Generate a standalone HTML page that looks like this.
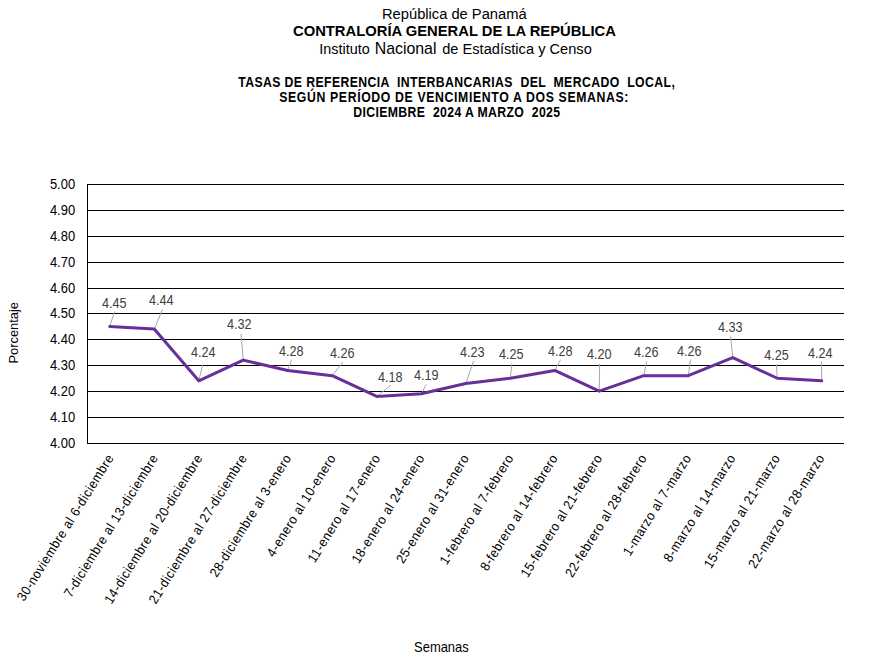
<!DOCTYPE html>
<html><head><meta charset="utf-8"><title>Tasas de referencia interbancarias</title><style>
html,body{margin:0;padding:0;background:#fff;}
body{width:879px;height:660px;overflow:hidden;position:relative;}
svg{position:absolute;left:0;top:0;}
text{font-family:"Liberation Sans",Arial,sans-serif;}
</style></head><body>
<svg width="879" height="660" viewBox="0 0 879 660">
<g fill="#000">
<text x="382.0" y="18.8" font-size="15.2" textLength="144.6" lengthAdjust="spacingAndGlyphs">República de Panamá</text>
<text x="293.0" y="35.6" font-size="15.3" font-weight="bold" textLength="322.9" lengthAdjust="spacingAndGlyphs">CONTRALORÍA GENERAL DE LA REPÚBLICA</text>
<text x="319.3" y="54" font-size="15.3" textLength="50.4" lengthAdjust="spacingAndGlyphs">Instituto</text>
<text x="374.7" y="54" font-size="16.6" textLength="61.8" lengthAdjust="spacingAndGlyphs">Nacional</text>
<text x="442.2" y="54" font-size="15.3" textLength="149.6" lengthAdjust="spacingAndGlyphs">de Estadística y Censo</text>
</g>
<g fill="#000" font-size="14.6" font-weight="bold">
<text transform="translate(238.2,87) scale(0.84,1)" textLength="519.8" lengthAdjust="spacing" xml:space="preserve">TASAS DE REFERENCIA  INTERBANCARIAS  DEL  MERCADO  LOCAL,</text>
<text transform="translate(279.2,101.9) scale(0.84,1)" textLength="415.8" lengthAdjust="spacing">SEGÚN PERÍODO DE VENCIMIENTO A DOS SEMANAS:</text>
<text transform="translate(353.3,116.7) scale(0.84,1)" textLength="246.2" lengthAdjust="spacing" xml:space="preserve">DICIEMBRE  2024 A MARZO  2025</text>
</g>
<g stroke="#000" stroke-width="1" shape-rendering="crispEdges">
<line x1="87" y1="184.5" x2="844" y2="184.5"/>
<line x1="87" y1="210.5" x2="844" y2="210.5"/>
<line x1="87" y1="236.5" x2="844" y2="236.5"/>
<line x1="87" y1="262.5" x2="844" y2="262.5"/>
<line x1="87" y1="288.5" x2="844" y2="288.5"/>
<line x1="87" y1="313.5" x2="844" y2="313.5"/>
<line x1="87" y1="339.5" x2="844" y2="339.5"/>
<line x1="87" y1="365.5" x2="844" y2="365.5"/>
<line x1="87" y1="391.5" x2="844" y2="391.5"/>
<line x1="87" y1="417.5" x2="844" y2="417.5"/>
<line x1="87" y1="443.5" x2="844" y2="443.5"/>
<line x1="87.5" y1="184" x2="87.5" y2="444"/>
</g>
<g fill="#000" font-size="14.8" text-anchor="end">
<text x="75.1" y="189.00" textLength="25.2" lengthAdjust="spacingAndGlyphs">5.00</text>
<text x="75.1" y="215.00" textLength="25.2" lengthAdjust="spacingAndGlyphs">4.90</text>
<text x="75.1" y="241.00" textLength="25.2" lengthAdjust="spacingAndGlyphs">4.80</text>
<text x="75.1" y="267.00" textLength="25.2" lengthAdjust="spacingAndGlyphs">4.70</text>
<text x="75.1" y="293.00" textLength="25.2" lengthAdjust="spacingAndGlyphs">4.60</text>
<text x="75.1" y="318.00" textLength="25.2" lengthAdjust="spacingAndGlyphs">4.50</text>
<text x="75.1" y="344.00" textLength="25.2" lengthAdjust="spacingAndGlyphs">4.40</text>
<text x="75.1" y="370.00" textLength="25.2" lengthAdjust="spacingAndGlyphs">4.30</text>
<text x="75.1" y="396.00" textLength="25.2" lengthAdjust="spacingAndGlyphs">4.20</text>
<text x="75.1" y="422.00" textLength="25.2" lengthAdjust="spacingAndGlyphs">4.10</text>
<text x="75.1" y="448.00" textLength="25.2" lengthAdjust="spacingAndGlyphs">4.00</text>
</g>
<g stroke="#a8a8a8" stroke-width="1.0">
<line x1="114.5" y1="311.5" x2="109.75" y2="326.45"/>
<line x1="162.5" y1="309.5" x2="154.25" y2="329.04"/>
<line x1="202.6" y1="365" x2="198.75" y2="380.84"/>
<line x1="241" y1="333.6" x2="243.25" y2="360.12"/>
<line x1="291.6" y1="359.6" x2="287.75" y2="370.48"/>
<line x1="342.6" y1="362.4" x2="332.25" y2="375.66"/>
<line x1="391" y1="385.2" x2="376.75" y2="396.38"/>
<line x1="426.4" y1="384.4" x2="421.25" y2="393.79"/>
<line x1="473.6" y1="361" x2="465.75" y2="383.43"/>
<line x1="512" y1="363.6" x2="510.25" y2="378.25"/>
<line x1="560.6" y1="359.6" x2="554.75" y2="370.48"/>
<line x1="599.6" y1="363.6" x2="599.25" y2="391.20"/>
<line x1="646.6" y1="361.6" x2="643.75" y2="375.66"/>
<line x1="690.6" y1="359.6" x2="688.25" y2="375.66"/>
<line x1="730.6" y1="336.4" x2="732.75" y2="357.53"/>
<line x1="776.4" y1="364.4" x2="777.25" y2="378.25"/>
<line x1="821.4" y1="361.6" x2="821.75" y2="380.84"/>
</g>
<polyline points="109.75,326.45 154.25,329.04 198.75,380.84 243.25,360.12 287.75,370.48 332.25,375.66 376.75,396.38 421.25,393.79 465.75,383.43 510.25,378.25 554.75,370.48 599.25,391.20 643.75,375.66 688.25,375.66 732.75,357.53 777.25,378.25 821.75,380.84" fill="none" stroke="#672f9a" stroke-width="3.0" stroke-linejoin="round" stroke-linecap="round"/>
<g fill="#404040" font-size="14.6">
<text x="101.90" y="307.60" textLength="24.6" lengthAdjust="spacingAndGlyphs">4.45</text>
<text x="148.90" y="304.60" textLength="24.6" lengthAdjust="spacingAndGlyphs">4.44</text>
<text x="190.90" y="356.60" textLength="24.6" lengthAdjust="spacingAndGlyphs">4.24</text>
<text x="226.90" y="328.70" textLength="24.6" lengthAdjust="spacingAndGlyphs">4.32</text>
<text x="278.90" y="356.10" textLength="24.6" lengthAdjust="spacingAndGlyphs">4.28</text>
<text x="329.90" y="357.50" textLength="24.6" lengthAdjust="spacingAndGlyphs">4.26</text>
<text x="377.90" y="382.10" textLength="24.6" lengthAdjust="spacingAndGlyphs">4.18</text>
<text x="413.90" y="380.10" textLength="24.6" lengthAdjust="spacingAndGlyphs">4.19</text>
<text x="459.90" y="357.10" textLength="24.6" lengthAdjust="spacingAndGlyphs">4.23</text>
<text x="498.90" y="359.10" textLength="24.6" lengthAdjust="spacingAndGlyphs">4.25</text>
<text x="547.90" y="356.10" textLength="24.6" lengthAdjust="spacingAndGlyphs">4.28</text>
<text x="586.90" y="358.70" textLength="24.6" lengthAdjust="spacingAndGlyphs">4.20</text>
<text x="633.90" y="357.10" textLength="24.6" lengthAdjust="spacingAndGlyphs">4.26</text>
<text x="676.90" y="356.10" textLength="24.6" lengthAdjust="spacingAndGlyphs">4.26</text>
<text x="717.90" y="331.50" textLength="24.6" lengthAdjust="spacingAndGlyphs">4.33</text>
<text x="764.30" y="360.10" textLength="24.6" lengthAdjust="spacingAndGlyphs">4.25</text>
<text x="807.90" y="357.50" textLength="24.6" lengthAdjust="spacingAndGlyphs">4.24</text>
</g>
<g fill="#000" font-size="13.4" text-anchor="end">
<text transform="translate(114.05,458.2) rotate(-58) scale(0.92,1)" textLength="184.46" lengthAdjust="spacing">30-noviembre al 6-diciembre</text>
<text transform="translate(158.47,458.2) rotate(-58) scale(0.92,1)" textLength="179.59" lengthAdjust="spacing">7-diciembre al 13-diciembre</text>
<text transform="translate(202.89,458.2) rotate(-58) scale(0.92,1)" textLength="187.68" lengthAdjust="spacing">14-diciembre al 20-diciembre</text>
<text transform="translate(247.31,458.2) rotate(-58) scale(0.92,1)" textLength="187.68" lengthAdjust="spacing">21-diciembre al 27-diciembre</text>
<text transform="translate(291.73,458.2) rotate(-58) scale(0.92,1)" textLength="153.72" lengthAdjust="spacing">28-diciembre al 3-enero</text>
<text transform="translate(336.15,458.2) rotate(-58) scale(0.92,1)" textLength="127.86" lengthAdjust="spacing">4-enero al 10-enero</text>
<text transform="translate(380.57,458.2) rotate(-58) scale(0.92,1)" textLength="134.87" lengthAdjust="spacing">11-enero al 17-enero</text>
<text transform="translate(424.99,458.2) rotate(-58) scale(0.92,1)" textLength="135.96" lengthAdjust="spacing">18-enero al 24-enero</text>
<text transform="translate(469.41,458.2) rotate(-58) scale(0.92,1)" textLength="135.96" lengthAdjust="spacing">25-enero al 31-enero</text>
<text transform="translate(513.83,458.2) rotate(-58) scale(0.92,1)" textLength="137.53" lengthAdjust="spacing">1-febrero al 7-febrero</text>
<text transform="translate(558.25,458.2) rotate(-58) scale(0.92,1)" textLength="145.63" lengthAdjust="spacing">8-febrero al 14-febrero</text>
<text transform="translate(602.67,458.2) rotate(-58) scale(0.92,1)" textLength="153.74" lengthAdjust="spacing">15-febrero al 21-febrero</text>
<text transform="translate(647.09,458.2) rotate(-58) scale(0.92,1)" textLength="153.74" lengthAdjust="spacing">22-febrero al 28-febrero</text>
<text transform="translate(691.51,458.2) rotate(-58) scale(0.92,1)" textLength="126.18" lengthAdjust="spacing">1-marzo al 7-marzo</text>
<text transform="translate(735.93,458.2) rotate(-58) scale(0.92,1)" textLength="134.27" lengthAdjust="spacing">8-marzo al 14-marzo</text>
<text transform="translate(780.35,458.2) rotate(-58) scale(0.92,1)" textLength="142.37" lengthAdjust="spacing">15-marzo al 21-marzo</text>
<text transform="translate(824.77,458.2) rotate(-58) scale(0.92,1)" textLength="142.37" lengthAdjust="spacing">22-marzo al 28-marzo</text>
</g>
<text transform="translate(18.0,363.6) rotate(-90)" font-size="13.5" textLength="61.6" lengthAdjust="spacingAndGlyphs" fill="#000">Porcentaje</text>
<text x="414.1" y="651.8" font-size="14.2" textLength="54.6" lengthAdjust="spacingAndGlyphs" fill="#000">Semanas</text>
</svg>
</body></html>
